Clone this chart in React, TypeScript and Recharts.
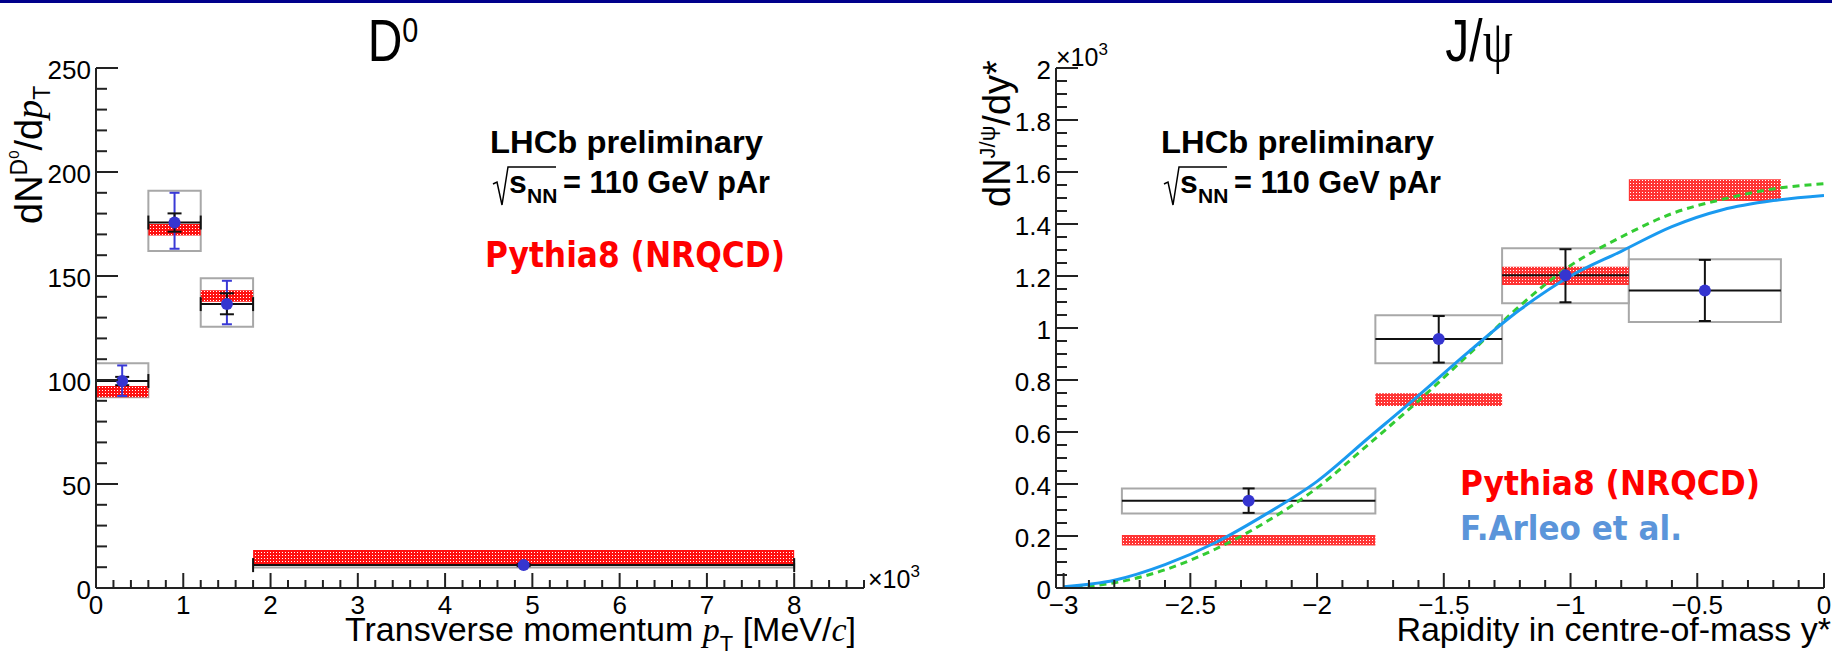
import React from 'react';
import { ComposedChart, XAxis, YAxis, Scatter, ErrorBar, Line, ReferenceArea } from 'recharts';

const FONT = "'Liberation Sans', Arial, Helvetica, sans-serif";
const SERIF = "'Liberation Serif', 'Times New Roman', serif";
const COMIC = "'Comic Sans MS', 'DejaVu Sans', sans-serif";

// ---- D0 panel (pT in units of 10^3 MeV/c) ----
const d0BinLo = [0, 0.6, 1.2, 1.8];
const d0BinHi = [0.6, 1.2, 1.8, 8.0];
const d0X = [0.3, 0.9, 1.5, 4.9];
const d0Y = [99.5, 175.7, 136.5, 11.0];
const d0StatLo = [2.0, 4.4, 4.9, 0.5];
const d0StatHi = [2.0, 4.4, 5.2, 0.5];
const d0TotLo = [7.2, 12.6, 9.7, 1.0];
const d0TotHi = [7.5, 14.3, 11.2, 1.0];
const d0SystLo = [91.7, 162.0, 125.6, 9.9];
const d0SystHi = [108.0, 191.0, 148.9, 11.5];
const d0PythiaLo = [91.7, 169.5, 137.6, 11.5];
const d0PythiaHi = [97.1, 175.0, 143.1, 18.3];

// ---- J/psi panel (dN/dy* in units of 10^3) ----
const jpsiBinLo = [-2.77, -1.77, -1.27, -0.77];
const jpsiBinHi = [-1.77, -1.27, -0.77, -0.17];
const jpsiX = [-2.27, -1.52, -1.02, -0.47];
const jpsiY = [0.336, 0.958, 1.203, 1.144];
const jpsiStatLo = [0.047, 0.091, 0.104, 0.117];
const jpsiStatHi = [0.047, 0.088, 0.1, 0.118];
const jpsiSystLo = [0.287, 0.864, 1.095, 1.023];
const jpsiSystHi = [0.383, 1.049, 1.307, 1.264];
const jpsiPythiaLo = [0.163, 0.7, 1.165, 1.488];
const jpsiPythiaHi = [0.204, 0.749, 1.236, 1.572];

// model curves
const curveX = [-3.0, -2.8, -2.6, -2.4, -2.2, -2.0, -1.8, -1.6, -1.4, -1.2, -1.0, -0.8, -0.6, -0.4, -0.2, 0.0];
const arleoY = [0.005, 0.03, 0.09, 0.175, 0.285, 0.41, 0.575, 0.74, 0.91, 1.07, 1.2, 1.295, 1.39, 1.455, 1.49, 1.51];
const greenY = [0.0, 0.02, 0.07, 0.15, 0.255, 0.385, 0.55, 0.72, 0.9, 1.085, 1.24, 1.35, 1.44, 1.495, 1.535, 1.555];

// tick labels
const d0XMajor = [0, 1, 2, 3, 4, 5, 6, 7, 8];
const d0YMajor = [0, 50, 100, 150, 200, 250];
const jpsiXMajor = [-3, -2.5, -2, -1.5, -1, -0.5, 0];
const jpsiYMajor = [0, 0.2, 0.4, 0.6, 0.8, 1, 1.2, 1.4, 1.6, 1.8, 2];

const stepTicks = (lo: number, hi: number, step: number) => {
  const n = Math.round((hi - lo) / step);
  return Array.from({ length: n + 1 }, (_, i) => +(lo + i * step).toFixed(4));
};

const fmt = (v: number) => (v < 0 ? '\u2212' + Math.abs(v) : String(v));
const inList = (v: number, list: number[]) => list.some((m) => Math.abs(m - v) < 1e-6);

const XTick = ({ x, y, payload, major }: any) => {
  const isMaj = inList(payload.value, major);
  return (
    <g>
      <line x1={x} y1={y} x2={x} y2={y - (isMaj ? 15 : 8)} stroke="#222" strokeWidth={2} />
      {isMaj && (
        <text x={x} y={y + 26} textAnchor="middle" fontSize={26} fontFamily={FONT} fill="#000">
          {fmt(payload.value)}
        </text>
      )}
    </g>
  );
};

const YTick = ({ x, y, payload, major }: any) => {
  const isMaj = inList(payload.value, major);
  return (
    <g>
      <line x1={x} y1={y} x2={x + (isMaj ? 22 : 11)} y2={y} stroke="#222" strokeWidth={2} />
      {isMaj && (
        <text x={x - 5} y={y + 11} textAnchor="end" fontSize={26} fontFamily={FONT} fill="#000">
          {fmt(payload.value)}
        </text>
      )}
    </g>
  );
};

const Dot = (p: any) => <circle cx={p.cx} cy={p.cy} r={6} fill="#3535d0" />;
const Empty = () => <g />;

const d0Points = d0X.map((x, i) => ({
  x,
  y: d0Y[i],
  ex: [x - d0BinLo[i], d0BinHi[i] - x],
  stat: [d0StatLo[i], d0StatHi[i]],
  tot: [d0TotLo[i], d0TotHi[i]],
}));

const jpsiPoints = jpsiX.map((x, i) => ({
  x,
  y: jpsiY[i],
  ex: [x - jpsiBinLo[i], jpsiBinHi[i] - x],
  stat: [jpsiStatLo[i], jpsiStatHi[i]],
}));

const arleo = curveX.map((x, i) => ({ x, y: arleoY[i] }));
const green = curveX.map((x, i) => ({ x, y: greenY[i] }));

const frame = { stroke: '#222', strokeWidth: 2 };

const D0Chart = () => (
  <ComposedChart width={916} height={651} margin={{ top: 68, right: 52, bottom: 0, left: 0 }}>
    <XAxis
      dataKey="x" type="number" domain={[0, 8.8]} allowDataOverflow
      ticks={stepTicks(0, 8.8, 0.2)} interval={0} tickSize={0} tickMargin={0}
      tickLine={false} axisLine={frame} height={63}
      tick={(p: any) => <XTick {...p} major={d0XMajor} />}
    />
    <XAxis xAxisId="top" orientation="top" type="number" domain={[0, 8.8]} tick={false} tickLine={false} height={0} axisLine={frame} />
    <YAxis
      type="number" domain={[0, 250]} allowDataOverflow
      ticks={stepTicks(0, 250, 10)} interval={0} tickSize={0} tickMargin={0}
      tickLine={false} axisLine={frame} width={96}
      tick={(p: any) => <YTick {...p} major={d0YMajor} />}
    />
    <YAxis yAxisId="right" orientation="right" type="number" domain={[0, 250]} tick={false} tickLine={false} width={0} axisLine={frame} />
    {d0X.map((_, i) => (
      <ReferenceArea key={'s' + i} x1={d0BinLo[i]} x2={d0BinHi[i]} y1={d0SystLo[i]} y2={d0SystHi[i]}
        fill="none" fillOpacity={0} stroke="#a8a8a8" strokeWidth={2} />
    ))}
    {d0X.map((_, i) => (
      <ReferenceArea key={'p' + i} x1={d0BinLo[i]} x2={d0BinHi[i]} y1={d0PythiaLo[i]} y2={d0PythiaHi[i]}
        fill="url(#pythiaHatch)" fillOpacity={1} stroke="none" />
    ))}
    <Scatter data={d0Points} dataKey="y" shape={Empty} isAnimationActive={false}>
      <ErrorBar dataKey="tot" direction="y" stroke="#3a3ad6" strokeWidth={2} width={5} isAnimationActive={false} />
    </Scatter>
    <Scatter data={d0Points} dataKey="y" shape={Empty} isAnimationActive={false}>
      <ErrorBar dataKey="ex" direction="x" stroke="#111" strokeWidth={2} width={7} isAnimationActive={false} />
      <ErrorBar dataKey="stat" direction="y" stroke="#111" strokeWidth={2} width={7} isAnimationActive={false} />
    </Scatter>
    <Scatter data={d0Points} dataKey="y" shape={Dot} isAnimationActive={false} />
  </ComposedChart>
);

const JpsiChart = () => (
  <ComposedChart width={916} height={651} margin={{ top: 68, right: 8, bottom: 0, left: 0 }}>
    <XAxis
      dataKey="x" type="number" domain={[-3.03, 0]} allowDataOverflow
      ticks={stepTicks(-3, 0, 0.1)} interval={0} tickSize={0} tickMargin={0}
      tickLine={false} axisLine={frame} height={63}
      tick={(p: any) => <XTick {...p} major={jpsiXMajor} />}
    />
    <XAxis xAxisId="top" orientation="top" type="number" domain={[-3.03, 0]} tick={false} tickLine={false} height={0} axisLine={frame} />
    <YAxis
      type="number" domain={[0, 2]} allowDataOverflow
      ticks={stepTicks(0, 2, 0.05)} interval={0} tickSize={0} tickMargin={0}
      tickLine={false} axisLine={frame} width={140}
      tick={(p: any) => <YTick {...p} major={jpsiYMajor} />}
    />
    <YAxis yAxisId="right" orientation="right" type="number" domain={[0, 2]} tick={false} tickLine={false} width={0} axisLine={frame} />
    {jpsiX.map((_, i) => (
      <ReferenceArea key={'s' + i} x1={jpsiBinLo[i]} x2={jpsiBinHi[i]} y1={jpsiSystLo[i]} y2={jpsiSystHi[i]}
        fill="none" fillOpacity={0} stroke="#a8a8a8" strokeWidth={2} />
    ))}
    <Scatter data={jpsiPoints} dataKey="y" shape={Empty} isAnimationActive={false}>
      <ErrorBar dataKey="ex" direction="x" stroke="#111" strokeWidth={2} width={0} isAnimationActive={false} />
      <ErrorBar dataKey="stat" direction="y" stroke="#111" strokeWidth={2} width={6} isAnimationActive={false} />
    </Scatter>
    <Scatter data={jpsiPoints} dataKey="y" shape={Dot} isAnimationActive={false} />
    {jpsiX.map((_, i) => (
      <ReferenceArea key={'p' + i} x1={jpsiBinLo[i]} x2={jpsiBinHi[i]} y1={jpsiPythiaLo[i]} y2={jpsiPythiaHi[i]}
        fill="url(#pythiaHatch)" fillOpacity={0.85} stroke="none" />
    ))}
    <Line data={green} dataKey="y" type="monotone" stroke="#33cc33" strokeWidth={3} strokeDasharray="7 5" dot={false} isAnimationActive={false} />
    <Line data={arleo} dataKey="y" type="monotone" stroke="#1a9af0" strokeWidth={3} dot={false} isAnimationActive={false} />
  </ComposedChart>
);

const Energy = ({ x0 }: { x0: number }) => (
  <g fontFamily={FONT} fontWeight="bold" fill="#000">
    <text x={x0} y={153} fontSize={32} textLength={273} lengthAdjust="spacingAndGlyphs">LHCb preliminary</text>
    <path d={`M${x0 + 3},184 L${x0 + 7},182 L${x0 + 12},205 L${x0 + 18},167 L${x0 + 66},167`} fill="none" stroke="#000" strokeWidth={1.5} />
    <text x={x0 + 19} y={193} fontSize={32}>s</text>
    <text x={x0 + 37} y={203} fontSize={21}>NN</text>
    <text x={x0 + 73} y={193} fontSize={32} textLength={207} lengthAdjust="spacingAndGlyphs">= 110 GeV pAr</text>
  </g>
);

const Overlay = () => (
  <svg width={1832} height={651} style={{ position: 'absolute', left: 0, top: 0, pointerEvents: 'none' }}>
    <g fontFamily={FONT} fill="#000">
      <text transform="translate(393,61) scale(0.8,1)" textAnchor="middle" fontSize={60}>
        D<tspan fontSize={36} dy={-19}>0</tspan>
      </text>
      <text transform="translate(1479,61) scale(0.8,1)" textAnchor="middle" fontSize={60}>
        J/<tspan fontFamily={SERIF}>ψ</tspan>
      </text>
      <text transform="translate(42,224) rotate(-90)" fontSize={38}>
        dN<tspan fontSize={23} dy={-15}>D</tspan>
        <tspan fontSize={15} dy={-8}>0</tspan>
        <tspan fontSize={38} dy={23}>/d</tspan>
        <tspan fontFamily={SERIF} fontStyle="italic">p</tspan>
        <tspan fontSize={23} dy={8}>T</tspan>
      </text>
      <text transform="translate(1010,207) rotate(-90)" fontSize={38}>
        dN<tspan fontSize={22} dy={-15}>J/ψ</tspan>
        <tspan fontSize={38} dy={15}>/dy*</tspan>
      </text>
      <text x={345} y={641} fontSize={34}>
        Transverse momentum <tspan fontFamily={SERIF} fontStyle="italic">p</tspan>
        <tspan fontSize={22} dy={10}>T</tspan>
        <tspan dy={-10}> [MeV/</tspan>
        <tspan fontFamily={SERIF} fontStyle="italic">c</tspan>]
      </text>
      <text x={1831} y={641} fontSize={34} textAnchor="end">Rapidity in centre-of-mass y*</text>
      <text x={868} y={588} fontSize={25}>
        ×10<tspan fontSize={17} dy={-11}>3</tspan>
      </text>
      <text x={1056} y={66} fontSize={25}>
        ×10<tspan fontSize={17} dy={-11}>3</tspan>
      </text>
    </g>
    <Energy x0={490} />
    <Energy x0={1161} />
    <g fontFamily={COMIC} fontWeight="bold">
      <text x={485} y={267} fontSize={36} fill="#ff0000" textLength={300} lengthAdjust="spacingAndGlyphs">Pythia8 (NRQCD)</text>
      <text x={1460} y={495} fontSize={34} fill="#ff0000" textLength={300} lengthAdjust="spacingAndGlyphs">Pythia8 (NRQCD)</text>
      <text x={1460} y={540} fontSize={33} fill="#5b95da" textLength={222} lengthAdjust="spacingAndGlyphs">F.Arleo et al.</text>
    </g>
  </svg>
);

export default function App() {
  return (
    <div style={{ position: 'absolute', left: 0, top: 0, width: 1832, height: 651, background: '#fff', overflow: 'hidden' }}>
      <svg width={0} height={0} style={{ position: 'absolute' }}>
        <defs>
          <pattern id="pythiaHatch" width={3} height={3} patternUnits="userSpaceOnUse">
            <rect width={3} height={3} fill="#ff1010" />
            <rect width={1} height={1} fill="#ffffff" />
          </pattern>
        </defs>
      </svg>
      <div style={{ position: 'absolute', left: 0, top: 0, width: 1832, height: 3, background: '#00008b' }} />
      <div style={{ position: 'absolute', left: 0, top: 0 }}>
        <D0Chart />
      </div>
      <div style={{ position: 'absolute', left: 916, top: 0 }}>
        <JpsiChart />
      </div>
      <Overlay />
    </div>
  );
}
